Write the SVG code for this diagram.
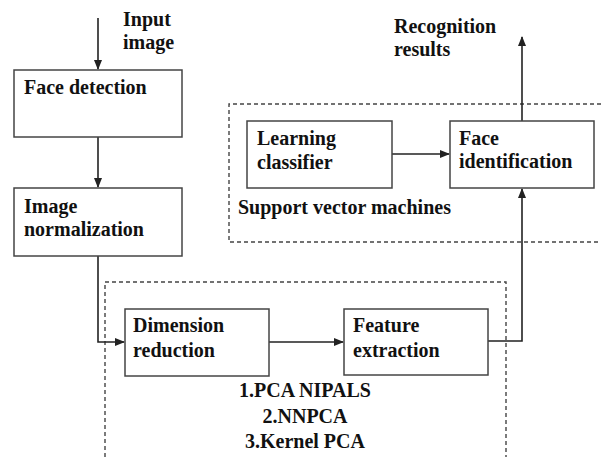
<svg xmlns="http://www.w3.org/2000/svg" width="601" height="457" viewBox="0 0 601 457">
<defs>
<marker id="ah" markerWidth="10" markerHeight="8" refX="9" refY="4" orient="auto" markerUnits="userSpaceOnUse">
<path d="M0,0 L10,4 L0,8 Z" fill="#222"/>
</marker>
<style>
.box{fill:#fff;stroke:#444;stroke-width:1.5}
.t{font-family:"Liberation Serif","Times New Roman",serif;font-weight:bold;font-size:20px;fill:#111}
.c{fill:none;stroke:#222;stroke-width:1.6}
.d{fill:none;stroke:#444;stroke-width:1.4;stroke-dasharray:4 3}
</style>
</defs>
<rect width="601" height="457" fill="#fff"/>
<g id="groups">
<path class="d" d="M601,104 H229 V242 H601"/>
<path class="d" d="M105,457 V282 H506 V457"/>
</g>
<g id="connectors">
<path class="c" d="M98,18 V69" marker-end="url(#ah)"/>
<path class="c" d="M98,137 V187" marker-end="url(#ah)"/>
<path class="c" d="M98,256 V342 H124" marker-end="url(#ah)"/>
<path class="c" d="M269,342 H343" marker-end="url(#ah)"/>
<path class="c" d="M488,341 H522 V189" marker-end="url(#ah)"/>
<path class="c" d="M392,154 H449" marker-end="url(#ah)"/>
<path class="c" d="M522,121 V37" marker-end="url(#ah)"/>
</g>
<g id="input-label">
<text class="t" x="123" y="26">Input</text>
<text class="t" x="123" y="49">image</text>
</g>
<g id="output-label">
<text class="t" x="394" y="33">Recognition</text>
<text class="t" x="394" y="56">results</text>
</g>
<g id="face-detection">
<rect class="box" x="14" y="70" width="168" height="67"/>
<text class="t" x="24" y="94">Face detection</text>
</g>
<g id="image-normalization">
<rect class="box" x="14" y="188" width="168" height="68"/>
<text class="t" x="24" y="213">Image</text>
<text class="t" x="24" y="236">normalization</text>
</g>
<g id="learning-classifier">
<rect class="box" x="247" y="121" width="145" height="67"/>
<text class="t" x="257" y="145">Learning</text>
<text class="t" x="257" y="169">classifier</text>
</g>
<g id="face-identification">
<rect class="box" x="450" y="121" width="144" height="67"/>
<text class="t" x="459" y="145">Face</text>
<text class="t" x="459" y="168">identification</text>
</g>
<g id="svm-label">
<text class="t" x="238" y="214">Support vector machines</text>
</g>
<g id="dimension-reduction">
<rect class="box" x="125" y="309" width="144" height="67"/>
<text class="t" x="133" y="332">Dimension</text>
<text class="t" x="133" y="357">reduction</text>
</g>
<g id="feature-extraction">
<rect class="box" x="344" y="309" width="144" height="66"/>
<text class="t" x="353" y="332">Feature</text>
<text class="t" x="353" y="357">extraction</text>
</g>
<g id="methods-label">
<text class="t" x="305" y="397" text-anchor="middle">1.PCA NIPALS</text>
<text class="t" x="305" y="423" text-anchor="middle">2.NNPCA</text>
<text class="t" x="305" y="448" text-anchor="middle">3.Kernel PCA</text>
</g>
</svg>
